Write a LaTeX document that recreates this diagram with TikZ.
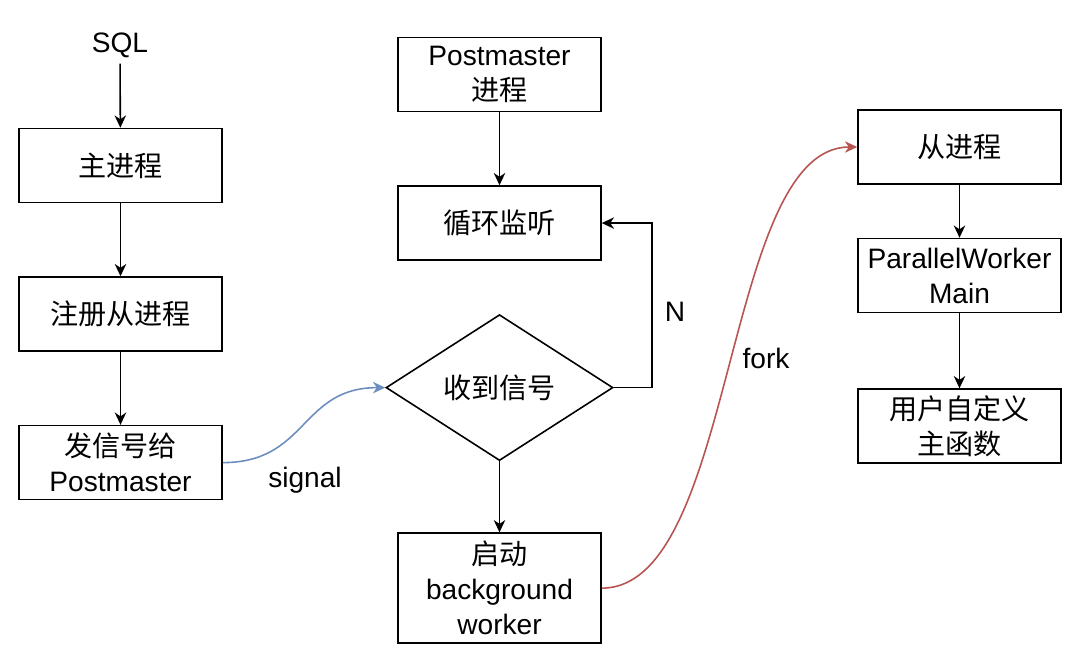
\documentclass[tikz,border=0pt]{standalone}
\usepackage{fontspec}
\setmainfont{Liberation Sans}
\newfontfamily\cjk{Noto Sans CJK SC}
\usepackage{tikz}
\usetikzlibrary{
    positioning,
    arrows.meta,
    shapes.geometric
}
\definecolor{sigblue}{HTML}{6C8EBF}
\definecolor{forkred}{HTML}{B85450}

\begin{document}
\begin{tikzpicture}[
    x=0.02cm, y=-0.02cm,
    node distance=1.46cm,
    every node/.style={font=\fontsize{16}{20}\selectfont},
    box/.style={rectangle, draw=black, line width=0.9pt, align=center, minimum width=4.06cm, minimum height=1.48cm, inner sep=2pt},
    decision/.style={diamond, draw=black, line width=0.9pt, minimum width=4.54cm, minimum height=2.92cm, inner sep=0pt},
    arrow/.style={-{Stealth[length=7pt, width=6.5pt, inset=2.2pt]}, line width=0.9pt}
]
\useasboundingbox (0,0) rectangle (1080,664);

% left column
\node (sql) at (120,45) {SQL};
\node[box] (main) at (120.5,165.5) {\cjk 主进程};
\node[box, below=of main] (reg) {\cjk 注册从进程};
\node[box, below=of reg] (send) {{\cjk 发信号给}\\Postmaster};

% middle column
\node[box] (pm) at (499.5,74.5) {Postmaster\\{\cjk 进程}};
\node[box, below=of pm] (loop) {\cjk 循环监听};
\node[decision, below=1.06cm of loop] (recv) {\cjk 收到信号};
\node[box, below=1.42cm of recv, minimum height=2.2cm] (start) {{\cjk 启动}\\background\\worker};

% right column
\node[box] (slave) at (959.5,147) {\cjk 从进程};
\node[box, below=1.06cm of slave] (pwm) {ParallelWorker\\Main};
\node[box, below=1.5cm of pwm] (user) {{\cjk 用户自定义}\\{\cjk 主函数}};

% labels
\node (n) at (675,312) {N};
\node (signal) at (305,480) {signal};
\node (fork) at (766,358) {fork};

\draw[arrow] (sql) -- (main);
\draw[arrow] (main) -- (reg);
\draw[arrow] (reg) -- (send);
\draw[arrow] (pm) -- (loop);
\draw[arrow] (recv) -- (start);
\draw[arrow] (recv.east) -- ++(38,0) |- (loop.east);
\draw[arrow, sigblue] (send.east) .. controls +(85,0) and +(-85,0) .. (recv.west);
\draw[arrow, forkred] (start.east) .. controls +(135,0) and +(-135,0) .. (slave.west);
\draw[arrow] (slave) -- (pwm);
\draw[arrow] (pwm) -- (user);

\end{tikzpicture}
\end{document}
